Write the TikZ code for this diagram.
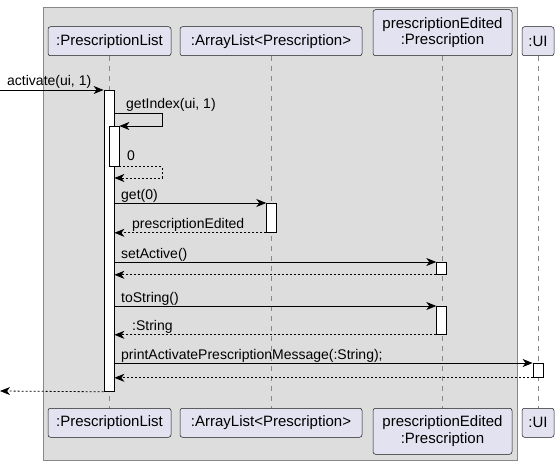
\documentclass[tikz,border=0pt]{standalone}
\usepackage{fontspec}
\setmainfont{Liberation Sans}
\usepackage{tikz}
\usetikzlibrary{arrows.meta}

\definecolor{grpfill}{HTML}{DDDDDD}
\definecolor{grpline}{HTML}{888888}
\definecolor{partfill}{HTML}{E2E2F0}
\definecolor{partline}{HTML}{181818}
\definecolor{lifeline}{HTML}{888888}

\tikzset{
  part/.style={draw=partline, line width=0.5pt, fill=partfill, rounded corners=2.5pt,
    align=center, inner sep=0pt, minimum height=29pt, font=\fontsize{15}{16.5}\selectfont},
  act/.style={draw=black, line width=0.8pt, fill=white, inner sep=0pt, minimum width=10pt, anchor=north},
  life/.style={draw=lifeline, line width=0.6pt, dash pattern=on 5pt off 5pt},
  msg/.style={draw=black, line width=0.8pt, -{Stealth[length=10pt,width=8pt,inset=3pt]}},
  ret/.style={msg, dash pattern=on 2pt off 2pt},
  lbl/.style={anchor=base west, inner sep=0pt, font=\fontsize{14}{16}\selectfont}
}

\begin{document}
\begin{tikzpicture}[x=1pt,y=-1pt]
\useasboundingbox (0,0) rectangle (559,465);

\draw[draw=grpline, fill=grpfill, line width=0.6pt] (43,7) rectangle (517,460);

\node[part, anchor=south, minimum width=123pt] (pL) at (109.5,56) {:PrescriptionList};
\node[part, anchor=south, minimum width=182pt] (pA) at (271,56) {:ArrayList<Prescription>};
\node[part, anchor=south, minimum width=139pt, minimum height=46pt] (pE) at (442.5,56) {prescriptionEdited\\:Prescription};
\node[part, anchor=south, minimum width=32pt] (pU) at (538,56) {:UI};

\node[part, anchor=north, minimum width=123pt] (pLb) at (109.5,408) {:PrescriptionList};
\node[part, anchor=north, minimum width=182pt] (pAb) at (271,408) {:ArrayList<Prescription>};
\node[part, anchor=north, minimum width=139pt, minimum height=46pt] (pEb) at (442.5,408) {prescriptionEdited\\:Prescription};
\node[part, anchor=north, minimum width=32pt] (pUb) at (538,408) {:UI};

\draw[life] (pL.south -| 109,0) -- (pLb.north -| 109,0);
\draw[life] (pA.south) -- (pAb.north);
\draw[life] (pE.south) -- (pEb.north);
\draw[life] (pU.south) -- (pUb.north);

\node[act, minimum height=301pt] (aL) at (109,90) {};
\node[act, minimum height=40pt] (aG) at (114,126) {};
\node[act, minimum height=29pt] (aA) at (271.7,203) {};
\node[act, minimum height=12pt] (aS) at (441.7,262) {};
\node[act, minimum height=28pt] (aT) at (441.7,306) {};
\node[act, minimum height=14pt] (aU) at (538,363) {};

\coordinate (in) at (0,90);
\coordinate (out) at (0,391);
\coordinate (gi) at (162,113);
\coordinate (gr) at (162,178);

\draw[msg] (in) -- (aL.north west);
\draw[msg] (aL.east |- gi) -- (gi) |- (aG.north east);
\draw[ret] (aG.south east) -| (gr) -- (aL.east |- gr);
\draw[msg] (aL.east |- aA.north) -- (aA.north west);
\draw[ret] (aA.south west) -- (aL.east |- aA.south);
\draw[msg] (aL.east |- aS.north) -- (aS.north west);
\draw[ret] (aS.south west) -- (aL.east |- aS.south);
\draw[msg] (aL.east |- aT.north) -- (aT.north west);
\draw[ret] (aT.south west) -- (aL.east |- aT.south);
\draw[msg] (aL.east |- aU.north) -- (aU.north west);
\draw[ret] (aU.south west) -- (aL.east |- aU.south);
\draw[ret] (aL.south west) -- (out);

\node[lbl] (lActivate) at (7,86) {activate(ui, 1)};
\node[lbl] (lIndex) at (126,109) {getIndex(ui, 1)};
\node[lbl] (lZero) at (127,161) {0};
\node[lbl] (lGet) at (121,199) {get(0)};
\node[lbl] (lEdited) at (132,228) {prescriptionEdited};
\node[lbl] (lActive) at (121,258) {setActive()};
\node[lbl] (lString) at (121,302) {toString()};
\node[lbl] (lRet) at (132,330) {:String};
\node[lbl] (lPrint) at (121,359) {printActivatePrescriptionMessage(:String);};

\end{tikzpicture}
\end{document}
